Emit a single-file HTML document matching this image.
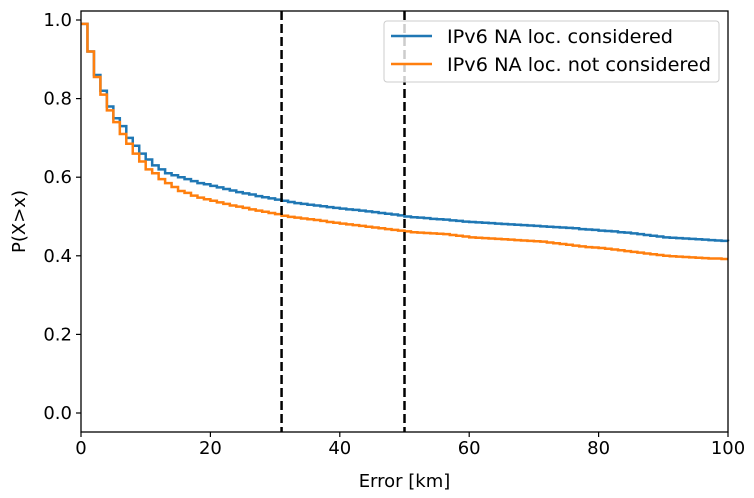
<!DOCTYPE html>
<html><head><meta charset="utf-8"><style>
body{margin:0;background:#fff}
svg{display:block;font-family:"DejaVu Sans","Liberation Sans",sans-serif}
</style></head><body>
<svg id="chart" width="754" height="498">
<g id="marks"></g>
<g id="axes"></g>
</svg>
<script>
// values at each integer km, 0..100
const blueVals = [
0.99,0.92,0.86,0.82,0.78,0.75,0.73,0.70,0.68,0.66,0.645,0.63,0.62,0.61,0.605,0.60,0.595,0.59,0.585,0.582,0.578,
0.574,0.57,0.566,0.562,0.559,0.556,0.552,0.549,0.546,0.543,0.540,
0.537,0.534,0.532,0.530,0.528,0.526,0.524,0.522,0.520,0.518,0.517,0.515,0.513,0.511,0.509,0.507,0.505,0.503,0.500,
0.498,0.497,0.496,0.494,0.493,0.492,0.490,0.489,0.487,0.486,
0.485,0.484,0.483,0.482,0.481,0.480,0.479,0.478,0.477,0.476,
0.475,0.474,0.473,0.472,0.471,0.470,0.468,0.467,0.466,0.464,
0.463,0.462,0.460,0.459,0.457,0.455,0.453,0.451,0.449,0.447,
0.446,0.445,0.444,0.443,0.442,0.441,0.440,0.439,0.438,0.437];
const orangeVals = [
0.99,0.92,0.855,0.81,0.77,0.74,0.71,0.685,0.66,0.64,0.62,0.61,0.595,0.585,0.575,0.565,0.56,0.553,0.548,0.544,0.540,
0.536,0.532,0.528,0.525,0.522,0.518,0.515,0.512,0.509,0.506,0.502,
0.499,0.497,0.495,0.493,0.491,0.489,0.486,0.484,0.482,0.480,0.478,0.476,0.474,0.472,0.470,0.468,0.466,0.464,0.462,
0.460,0.459,0.458,0.457,0.456,0.455,0.453,0.451,0.449,0.447,
0.446,0.445,0.444,0.443,0.442,0.441,0.440,0.439,0.438,0.437,
0.436,0.434,0.432,0.430,0.428,0.426,0.424,0.422,0.421,0.420,
0.418,0.416,0.414,0.412,0.410,0.408,0.406,0.404,0.402,0.400,
0.399,0.398,0.397,0.396,0.395,0.394,0.393,0.393,0.392,0.392];
const xTicks = [0,20,40,60,80,100];
const yTicks = [0.0,0.2,0.4,0.6,0.8,1.0];
const vlines = [31,50];
const L=81,R=728,T=11,B=432;
const X=v=>L+(v/100)*(R-L);
const Y=v=>413-v*393;
const NS="http://www.w3.org/2000/svg";
function mk(tag,attrs,parent){const e=document.createElementNS(NS,tag);for(const k in attrs)e.setAttribute(k,attrs[k]);parent.appendChild(e);return e;}
const marks=document.getElementById('marks'), axes=document.getElementById('axes');
function stepPath(vals){let d='M'+X(0)+','+Y(vals[0]);for(let i=1;i<vals.length;i++){d+=' H'+X(i)+' V'+Y(vals[i]);}d+=' H'+X(100);return d;}
const pb=mk('path',{d:stepPath(blueVals),fill:'none',stroke:'#1f77b4','stroke-width':2.5},marks);


const po=mk('path',{d:stepPath(orangeVals),fill:'none',stroke:'#ff7f0e','stroke-width':2.5},marks);


vlines.forEach(v=>{const l=mk('line',{x1:X(v),x2:X(v),y1:T,y2:B,stroke:'#000','stroke-width':2.5,'stroke-dasharray':'9,4'},marks);

});
const fr=mk('rect',{x:L,y:T,width:R-L,height:B-T,fill:'none',stroke:'#000','stroke-width':1.3},axes);


xTicks.forEach(v=>{mk('line',{x1:X(v),x2:X(v),y1:B,y2:B+5,stroke:'#000','stroke-width':1.2},axes);
const t=mk('text',{x:X(v),y:B+22,'text-anchor':'middle','font-size':18},axes);t.textContent=v;

});
yTicks.forEach(v=>{mk('line',{x1:L-5,x2:L,y1:Y(v),y2:Y(v),stroke:'#000','stroke-width':1.2},axes);
const t=mk('text',{x:L-9,y:Y(v)+6,'text-anchor':'end','font-size':18},axes);t.textContent=v.toFixed(1);

});
const xt=mk('text',{x:(L+R)/2,y:487,'text-anchor':'middle','font-size':18},axes);xt.textContent='Error [km]';


const yt=mk('text',{x:0,y:0,'text-anchor':'middle','font-size':18,transform:'translate(25,'+((T+B)/2)+') rotate(-90)'},axes);yt.textContent='P(X>x)';


const lg=mk('g',{},axes);


mk('rect',{x:384,y:21,width:335,height:61,rx:3,fill:'#fff','fill-opacity':0.8,stroke:'#ccc','stroke-width':1},lg);
[['IPv6 NA loc. considered','#1f77b4',36],['IPv6 NA loc. not considered','#ff7f0e',64]].forEach(([s,c,y])=>{
mk('line',{x1:391,x2:432,y1:y,y2:y,stroke:c,'stroke-width':2.5},lg);
const t=mk('text',{x:447,y:y+7,'font-size':19,textLength:s.length>24?264:226,lengthAdjust:'spacingAndGlyphs'},lg);t.textContent=s;

});
</script>
</body></html>
